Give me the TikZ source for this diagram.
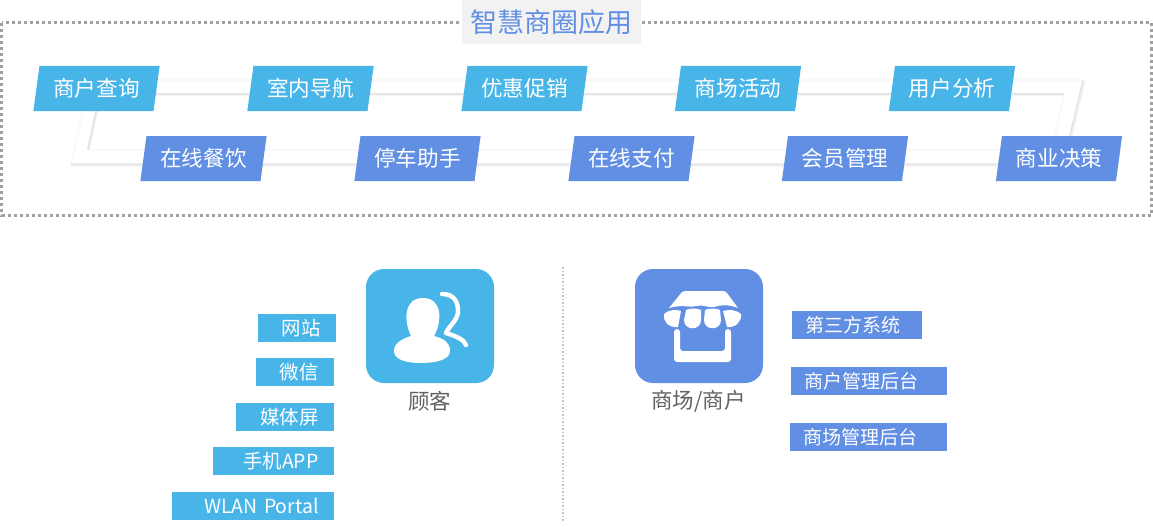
\documentclass[tikz,border=0pt]{standalone}
\usepackage{fontspec}
\setmainfont{Noto Sans CJK SC}
\usetikzlibrary{shapes.geometric}
\definecolor{skyblue}{HTML}{48B5E8}
\definecolor{royalblue}{HTML}{608FE3}
\definecolor{dotgray}{HTML}{A0A0A0}
\definecolor{ribbonlight}{HTML}{F6F6F6}
\definecolor{ribbonsoft}{HTML}{F0F0F0}
\definecolor{ribbondark}{HTML}{E0E0E0}
\newcommand{\pxfont}[1]{\fontsize{#1}{#1}\selectfont}
\tikzset{
  appbox/.style={trapezium, trapezium left angle=77, trapezium right angle=103, trapezium stretches=true,
    minimum width=127, minimum height=45, inner sep=0pt, fill=#1, text=white, font=\pxfont{21.6}},
  tagleft/.style={fill=skyblue, text=white, font=\pxfont{19.4}, minimum height=28, inner ysep=0pt,
    inner xsep=15.5pt, text width=#1-31pt, align=right},
  tagright/.style={fill=royalblue, text=white, font=\pxfont{19}, minimum height=28, inner ysep=0pt,
    inner xsep=13.5pt, text width=#1-27pt, align=left},
  iconbox/.style={fill=#1, rounded corners=18, minimum width=128, minimum height=114, inner sep=0pt},
  iconlabel/.style={text=black!62, font=\pxfont{21.5}, inner sep=0pt}
}
\begin{document}
\begin{tikzpicture}[x=1pt, y=-1pt]
    \useasboundingbox (0,0) rectangle (1153,527);

    % frame
    \draw[dotgray, line width=3, dash pattern=on 3 off 3] (1.5,23) rectangle (1151,215);
    \node[fill=black!5, minimum width=179, minimum height=44, inner sep=0pt, text=royalblue, font=\pxfont{27}] (title) at (551,22) {智慧商圈应用};

    % ribbon behind the boxes
    \draw[ribbonlight, line width=1.2] (71,164) -- (90,80) -- (1083,80);
    \draw[ribbonsoft, line width=3] (1084,81) -- (1064,165) -- (71,165);
    \draw[ribbondark, line width=1] (1083,80) -- (1063,164) -- (71,164);
    \draw[ribbonsoft, line width=3] (88,150) -- (100,94) -- (1064,94);
    \draw[ribbondark, line width=1] (88,150) -- (100,94) -- (1064,94);
    \draw[ribbonlight, line width=1.2] (1064,94) -- (1052,150) -- (88,150);

    \foreach \x/\name/\txt in {96.5/query/商户查询, 310.5/navi/室内导航, 524.5/promo/优惠促销, 738/event/商场活动, 952/stats/用户分析}
        \node[appbox=skyblue] (\name) at (\x,88.5) {\txt};
    \foreach \x/\name/\txt in {203.5/food/在线餐饮, 417.5/park/停车助手, 631.5/pay/在线支付, 845/member/会员管理, 1059/plan/商业决策}
        \node[appbox=royalblue] (\name) at (\x,158.5) {\txt};

    % divider
    \draw[black!22, line width=1.2, dash pattern=on 1.5 off 2] (563,267) -- (563,522);

    % customer
    \node[iconbox=skyblue] (customer) at (430,326) {};
    \node[iconlabel] (customerlabel) at (429.5,401) {顾客};
    \fill[white] (411,336) .. controls (404,322) and (403,298) .. (423,298) .. controls (443,298) and (442,322) .. (434,336) .. controls (445,339) and (450,343) .. (450,351) .. controls (450,360) and (435,363) .. (421,363) .. controls (407,363) and (394,360) .. (394,351) .. controls (394,343) and (402,339) .. (411,336) -- cycle;
    \draw[white, line width=4.4, line cap=round, line join=round] (442,294) .. controls (455,294) and (458,303) .. (458,311) .. controls (458,320) and (449,326) .. (446,333) .. controls (455,336) and (464,339) .. (466,345);

    \node[tagleft=78] (web) at (297,328) {网站};
    \node[tagleft=78] (wechat) at (295,372) {微信};
    \node[tagleft=98] (screen) at (285,417) {媒体屏};
    \node[tagleft=121] (mobile) at (273.5,461) {手机APP};
    \node[tagleft=162] (wlan) at (253,506) {WLAN Portal};

    % store
    \node[iconbox=royalblue] (store) at (699,326) {};
    \node[iconlabel] (storelabel) at (698.5,401) {商场/商户};
    \fill[white] (682,292) .. controls (683,291) and (684,291) .. (685,291) -- (723,291) .. controls (725,291) and (726,292) .. (727,293) -- (738,308) .. controls (728,304) and (720,305) .. (714,307) .. controls (708,308) and (702,304) .. (697,306) .. controls (690,308) and (683,304) .. (669,308) -- cycle;
    \fill[white] (664,314) .. controls (668,310) and (676,309) .. (681,311) -- (678,327) .. controls (669,328) and (663,322) .. (664,314) -- cycle;
    \fill[white] (686,310) .. controls (690,308) and (697,308) .. (701,310) -- (701,320) .. controls (701,331) and (684,331) .. (684,320) -- cycle;
    \fill[white] (705,310) .. controls (709,308) and (716,308) .. (720,310) -- (721,320) .. controls (721,331) and (704,331) .. (704,320) -- cycle;
    \fill[white] (723,311) .. controls (729,309) and (737,310) .. (741,314) .. controls (742,322) and (735,328) .. (727,327) -- cycle;
    \fill[white, rounded corners=3] (674,329) -- (680,329) -- (680,351) -- (725,351) -- (725,329) -- (731,329) -- (731,362) -- (674,362) -- cycle;

    \node[tagright=130] (third) at (857,325) {第三方系统};
    \node[tagright=156] (shopadmin) at (869,381) {商户管理后台};
    \node[tagright=157] (mallshop) at (868.5,437) {商场管理后台};
\end{tikzpicture}
\end{document}
